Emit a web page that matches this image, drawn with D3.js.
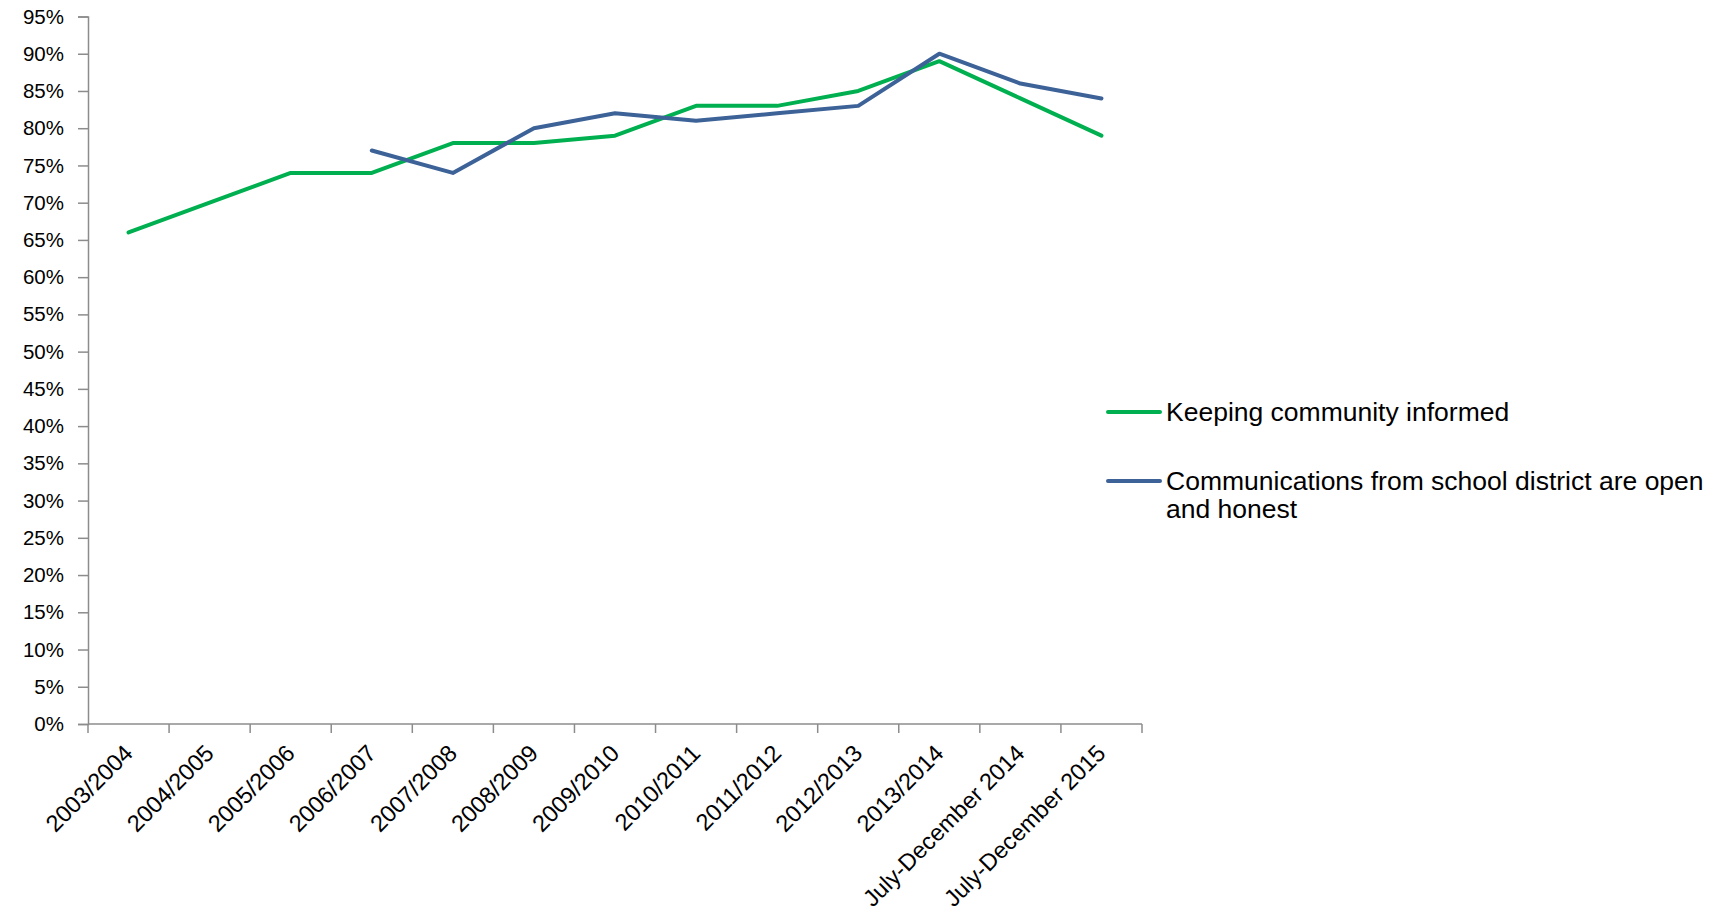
<!DOCTYPE html>
<html>
<head>
<meta charset="utf-8">
<script src="https://cdn.jsdelivr.net/npm/d3@7"></script>
<style>
  html, body { margin: 0; padding: 0; background: #fff; }
  svg { display: block; }
  text { font-family: "Liberation Sans", Arial, sans-serif; fill: #000; }
</style>
</head>
<body>
<svg id="chart" width="1723" height="914"></svg>
<script>
const categories = ["2003/2004","2004/2005","2005/2006","2006/2007","2007/2008","2008/2009","2009/2010","2010/2011","2011/2012","2012/2013","2013/2014","July-December 2014","July-December 2015"];
const keepingInformed = [66, 70, 74, 74, 78, 78, 79, 83, 83, 85, 89, 84, 79];
const openHonest = [null, null, null, 77, 74, 80, 82, 81, 82, 83, 90, 86, 84];
const yTicks = d3.range(0, 96, 5);
const seriesNames = ["Keeping community informed", "Communications from school district are open and honest"];
const seriesColors = ["#00B050", "#3C6298"];

const svg = d3.select("#chart");
const mLeft = 88, mRight = 1142, mTop = 16.5, mBottom = 724;

const x = d3.scaleBand().domain(categories).range([mLeft, mRight]).padding(0);
const y = d3.scaleLinear().domain([0, 95]).range([mBottom, mTop]);
const axisColor = "#8c8c8c";

// Y axis
const yAxis = d3.axisLeft(y).tickValues(yTicks).tickSize(10).tickPadding(14).tickFormat(d => d + "%");
const gy = svg.append("g").attr("transform", `translate(${mLeft},0)`).call(yAxis);
gy.select(".domain").attr("stroke", axisColor).attr("stroke-width", 1.5);
gy.selectAll(".tick line").attr("stroke", axisColor).attr("stroke-width", 1.5);
gy.selectAll(".tick text").style("font-size", "20.5px").style("font-family", "'Liberation Sans', Arial, sans-serif").attr("fill", "#000");

// X axis line
svg.append("line").attr("x1", mLeft).attr("x2", mRight).attr("y1", mBottom).attr("y2", mBottom)
  .attr("stroke", axisColor).attr("stroke-width", 1.5);
// boundary ticks
const bounds = categories.map(c => x(c)).concat([x(categories[categories.length-1]) + x.bandwidth()]);
svg.append("g").selectAll("line").data(bounds).join("line")
  .attr("x1", d => d).attr("x2", d => d).attr("y1", mBottom).attr("y2", mBottom + 9)
  .attr("stroke", axisColor).attr("stroke-width", 1.5);
// x labels
svg.append("g").selectAll("text").data(categories).join("text")
  .attr("transform", d => `translate(${x(d) + x.bandwidth()/2 - 6},${mBottom + 19}) rotate(-45)`)
  .attr("text-anchor", "end").attr("dy", "0.7em")
  .style("font-size", "23.5px")
  .text(d => d);

// lines
const line = d3.line()
  .defined(d => d.v !== null)
  .x(d => x(d.c) + x.bandwidth()/2)
  .y(d => y(d.v));

const seriesData = [keepingInformed, openHonest];
seriesData.forEach((vals, i) => {
  const data = categories.map((c, j) => ({c, v: vals[j]}));
  svg.append("path").datum(data)
    .attr("d", line)
    .attr("fill", "none")
    .attr("stroke", seriesColors[i])
    .attr("stroke-width", 4)
    .attr("stroke-linejoin", "round")
    .attr("stroke-linecap", "round");
});

// legend
const lg = svg.append("g");
const legendItems = [
  {lines: ["Keeping community informed"], y: 412},
  {lines: ["Communications from school district are open", "and honest"], y: 481}
];
legendItems.forEach((it, i) => {
  lg.append("line").attr("x1", 1108).attr("x2", 1160).attr("y1", it.y).attr("y2", it.y)
    .attr("stroke", seriesColors[i]).attr("stroke-width", 4).attr("stroke-linecap", "round");
  const t = lg.append("text").attr("x", 1166).attr("y", it.y).style("font-size", "26.5px");
  it.lines.forEach((l, k) => {
    t.append("tspan").attr("x", 1166).attr("dy", k === 0 ? "0.35em" : "28px").text(l);
  });
});
</script>
</body>
</html>
